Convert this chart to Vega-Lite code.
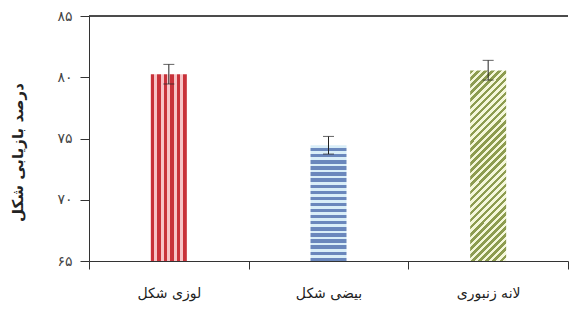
{
  "$schema": "https://vega.github.io/schema/vega-lite/v6.json",
  "autosize": "none",
  "width": 479,
  "height": 245,
  "padding": {"left": 89, "top": 16, "right": 1, "bottom": 55},
  "background": "white",
  "config": {"view": {"stroke": null}, "font": "DejaVu Sans"},
  "data": {
    "values": [
      {"shape": "لوزی شکل", "value": 80.25, "lo": 79.45, "hi": 81.05},
      {"shape": "بیضی شکل", "value": 74.45, "lo": 73.73, "hi": 75.17},
      {"shape": "لانه زنبوری", "value": 80.55, "lo": 79.77, "hi": 81.38}
    ]
  },
  "encoding": {
    "x": {
      "field": "shape", "type": "nominal", "sort": null,
      "scale": {"paddingInner": 0, "paddingOuter": 0},
      "axis": {
        "title": null, "labelAngle": 0, "tickBand": "extent",
        "domainColor": "#333", "tickColor": "#333", "tickSize": 8,
        "labelFontSize": 14, "labelColor": "#222", "labelPadding": 17,
        "labelFont": "DejaVu Sans"
      }
    }
  },
  "layer": [
    {
      "mark": {"type": "rule", "color": "#333", "strokeWidth": 1},
      "encoding": {
        "x": null,
        "y": {
          "datum": 85, "type": "quantitative",
          "scale": {"domain": [65, 85], "zero": false, "nice": false},
          "axis": {
            "title": "درصد بازیابی شکل",
            "values": [65, 70, 75, 80, 85],
            "grid": false,
            "labelExpr": "datum.value==65?'۶۵':datum.value==70?'۷۰':datum.value==75?'۷۵':datum.value==80?'۸۰':'۸۵'",
            "domainColor": "#333", "tickColor": "#333", "tickSize": 9,
            "labelFontSize": 14, "labelColor": "#444", "labelPadding": 8,
            "labelFont": "DejaVu Sans",
            "titleFont": "DejaVu Sans", "titleFontSize": 15, "titleFontWeight": "bold",
            "titleColor": "#222",
            "titleX": -72, "titleY": 136, "titleAngle": -90,
            "titleAlign": "center", "titleBaseline": "middle"
          }
        }
      }
    },
    {
      "transform": [{"filter": "datum.shape == 'لوزی شکل'"}],
      "mark": {
        "type": "bar", "size": 36,
        "fill": {
          "gradient": "linear", "x1": 0, "y1": 0, "x2": 1, "y2": 0,
          "stops": [
            {"offset": 0, "color": "#c8323a"}, {"offset": 0.095, "color": "#c8323a"},
            {"offset": 0.095, "color": "#f7c3c6"}, {"offset": 0.181, "color": "#f7c3c6"},
            {"offset": 0.181, "color": "#c8323a"}, {"offset": 0.276, "color": "#c8323a"},
            {"offset": 0.276, "color": "#f7c3c6"}, {"offset": 0.362, "color": "#f7c3c6"},
            {"offset": 0.362, "color": "#c8323a"}, {"offset": 0.457, "color": "#c8323a"},
            {"offset": 0.457, "color": "#f7c3c6"}, {"offset": 0.543, "color": "#f7c3c6"},
            {"offset": 0.543, "color": "#c8323a"}, {"offset": 0.638, "color": "#c8323a"},
            {"offset": 0.638, "color": "#f7c3c6"}, {"offset": 0.724, "color": "#f7c3c6"},
            {"offset": 0.724, "color": "#c8323a"}, {"offset": 0.819, "color": "#c8323a"},
            {"offset": 0.819, "color": "#f7c3c6"}, {"offset": 0.905, "color": "#f7c3c6"},
            {"offset": 0.905, "color": "#c8323a"}, {"offset": 1, "color": "#c8323a"}
          ]
        }
      },
      "encoding": {
        "y": {"field": "value", "type": "quantitative"},
        "y2": {"datum": 65}
      }
    },
    {
      "transform": [{"filter": "datum.shape == 'بیضی شکل'"}],
      "mark": {
        "type": "bar", "size": 36,
        "fill": {
          "gradient": "linear", "x1": 0, "y1": 0, "x2": 0, "y2": 1,
          "stops": [
            {"offset": 0, "color": "#d9eef8"}, {"offset": 0.024, "color": "#d9eef8"}, {"offset": 0.024, "color": "#6a87bc"}, {"offset": 0.0526, "color": "#6a87bc"},
            {"offset": 0.0526, "color": "#d9eef8"}, {"offset": 0.0766, "color": "#d9eef8"}, {"offset": 0.0766, "color": "#6a87bc"}, {"offset": 0.1053, "color": "#6a87bc"},
            {"offset": 0.1053, "color": "#d9eef8"}, {"offset": 0.1293, "color": "#d9eef8"}, {"offset": 0.1293, "color": "#6a87bc"}, {"offset": 0.1579, "color": "#6a87bc"},
            {"offset": 0.1579, "color": "#d9eef8"}, {"offset": 0.1819, "color": "#d9eef8"}, {"offset": 0.1819, "color": "#6a87bc"}, {"offset": 0.2105, "color": "#6a87bc"},
            {"offset": 0.2105, "color": "#d9eef8"}, {"offset": 0.2345, "color": "#d9eef8"}, {"offset": 0.2345, "color": "#6a87bc"}, {"offset": 0.2632, "color": "#6a87bc"},
            {"offset": 0.2632, "color": "#d9eef8"}, {"offset": 0.2872, "color": "#d9eef8"}, {"offset": 0.2872, "color": "#6a87bc"}, {"offset": 0.3158, "color": "#6a87bc"},
            {"offset": 0.3158, "color": "#d9eef8"}, {"offset": 0.3398, "color": "#d9eef8"}, {"offset": 0.3398, "color": "#6a87bc"}, {"offset": 0.3684, "color": "#6a87bc"},
            {"offset": 0.3684, "color": "#d9eef8"}, {"offset": 0.3924, "color": "#d9eef8"}, {"offset": 0.3924, "color": "#6a87bc"}, {"offset": 0.4211, "color": "#6a87bc"},
            {"offset": 0.4211, "color": "#d9eef8"}, {"offset": 0.4451, "color": "#d9eef8"}, {"offset": 0.4451, "color": "#6a87bc"}, {"offset": 0.4737, "color": "#6a87bc"},
            {"offset": 0.4737, "color": "#d9eef8"}, {"offset": 0.4977, "color": "#d9eef8"}, {"offset": 0.4977, "color": "#6a87bc"}, {"offset": 0.5263, "color": "#6a87bc"},
            {"offset": 0.5263, "color": "#d9eef8"}, {"offset": 0.5503, "color": "#d9eef8"}, {"offset": 0.5503, "color": "#6a87bc"}, {"offset": 0.5789, "color": "#6a87bc"},
            {"offset": 0.5789, "color": "#d9eef8"}, {"offset": 0.6029, "color": "#d9eef8"}, {"offset": 0.6029, "color": "#6a87bc"}, {"offset": 0.6316, "color": "#6a87bc"},
            {"offset": 0.6316, "color": "#d9eef8"}, {"offset": 0.6556, "color": "#d9eef8"}, {"offset": 0.6556, "color": "#6a87bc"}, {"offset": 0.6842, "color": "#6a87bc"},
            {"offset": 0.6842, "color": "#d9eef8"}, {"offset": 0.7082, "color": "#d9eef8"}, {"offset": 0.7082, "color": "#6a87bc"}, {"offset": 0.7368, "color": "#6a87bc"},
            {"offset": 0.7368, "color": "#d9eef8"}, {"offset": 0.7608, "color": "#d9eef8"}, {"offset": 0.7608, "color": "#6a87bc"}, {"offset": 0.7895, "color": "#6a87bc"},
            {"offset": 0.7895, "color": "#d9eef8"}, {"offset": 0.8135, "color": "#d9eef8"}, {"offset": 0.8135, "color": "#6a87bc"}, {"offset": 0.8421, "color": "#6a87bc"},
            {"offset": 0.8421, "color": "#d9eef8"}, {"offset": 0.8661, "color": "#d9eef8"}, {"offset": 0.8661, "color": "#6a87bc"}, {"offset": 0.8947, "color": "#6a87bc"},
            {"offset": 0.8947, "color": "#d9eef8"}, {"offset": 0.9187, "color": "#d9eef8"}, {"offset": 0.9187, "color": "#6a87bc"}, {"offset": 0.9474, "color": "#6a87bc"},
            {"offset": 0.9474, "color": "#d9eef8"}, {"offset": 0.9714, "color": "#d9eef8"}, {"offset": 0.9714, "color": "#6a87bc"}, {"offset": 1, "color": "#6a87bc"}
          ]
        }
      },
      "encoding": {
        "y": {"field": "value", "type": "quantitative"},
        "y2": {"datum": 65}
      }
    },
    {
      "transform": [{"filter": "datum.shape == 'لانه زنبوری'"}],
      "mark": {
        "type": "bar", "size": 36,
        "fill": {
          "gradient": "linear", "x1": 0, "y1": 0, "x2": 0.2176, "y2": 1.148,
          "stops": [
            {"offset": 0, "color": "#8d9c50"}, {"offset": 0.015625, "color": "#8d9c50"}, {"offset": 0.015625, "color": "#f4f7da"}, {"offset": 0.03125, "color": "#f4f7da"},
            {"offset": 0.03125, "color": "#8d9c50"}, {"offset": 0.046875, "color": "#8d9c50"}, {"offset": 0.046875, "color": "#f4f7da"}, {"offset": 0.0625, "color": "#f4f7da"},
            {"offset": 0.0625, "color": "#8d9c50"}, {"offset": 0.078125, "color": "#8d9c50"}, {"offset": 0.078125, "color": "#f4f7da"}, {"offset": 0.09375, "color": "#f4f7da"},
            {"offset": 0.09375, "color": "#8d9c50"}, {"offset": 0.109375, "color": "#8d9c50"}, {"offset": 0.109375, "color": "#f4f7da"}, {"offset": 0.125, "color": "#f4f7da"},
            {"offset": 0.125, "color": "#8d9c50"}, {"offset": 0.140625, "color": "#8d9c50"}, {"offset": 0.140625, "color": "#f4f7da"}, {"offset": 0.15625, "color": "#f4f7da"},
            {"offset": 0.15625, "color": "#8d9c50"}, {"offset": 0.171875, "color": "#8d9c50"}, {"offset": 0.171875, "color": "#f4f7da"}, {"offset": 0.1875, "color": "#f4f7da"},
            {"offset": 0.1875, "color": "#8d9c50"}, {"offset": 0.203125, "color": "#8d9c50"}, {"offset": 0.203125, "color": "#f4f7da"}, {"offset": 0.21875, "color": "#f4f7da"},
            {"offset": 0.21875, "color": "#8d9c50"}, {"offset": 0.234375, "color": "#8d9c50"}, {"offset": 0.234375, "color": "#f4f7da"}, {"offset": 0.25, "color": "#f4f7da"},
            {"offset": 0.25, "color": "#8d9c50"}, {"offset": 0.265625, "color": "#8d9c50"}, {"offset": 0.265625, "color": "#f4f7da"}, {"offset": 0.28125, "color": "#f4f7da"},
            {"offset": 0.28125, "color": "#8d9c50"}, {"offset": 0.296875, "color": "#8d9c50"}, {"offset": 0.296875, "color": "#f4f7da"}, {"offset": 0.3125, "color": "#f4f7da"},
            {"offset": 0.3125, "color": "#8d9c50"}, {"offset": 0.328125, "color": "#8d9c50"}, {"offset": 0.328125, "color": "#f4f7da"}, {"offset": 0.34375, "color": "#f4f7da"},
            {"offset": 0.34375, "color": "#8d9c50"}, {"offset": 0.359375, "color": "#8d9c50"}, {"offset": 0.359375, "color": "#f4f7da"}, {"offset": 0.375, "color": "#f4f7da"},
            {"offset": 0.375, "color": "#8d9c50"}, {"offset": 0.390625, "color": "#8d9c50"}, {"offset": 0.390625, "color": "#f4f7da"}, {"offset": 0.40625, "color": "#f4f7da"},
            {"offset": 0.40625, "color": "#8d9c50"}, {"offset": 0.421875, "color": "#8d9c50"}, {"offset": 0.421875, "color": "#f4f7da"}, {"offset": 0.4375, "color": "#f4f7da"},
            {"offset": 0.4375, "color": "#8d9c50"}, {"offset": 0.453125, "color": "#8d9c50"}, {"offset": 0.453125, "color": "#f4f7da"}, {"offset": 0.46875, "color": "#f4f7da"},
            {"offset": 0.46875, "color": "#8d9c50"}, {"offset": 0.484375, "color": "#8d9c50"}, {"offset": 0.484375, "color": "#f4f7da"}, {"offset": 0.5, "color": "#f4f7da"},
            {"offset": 0.5, "color": "#8d9c50"}, {"offset": 0.515625, "color": "#8d9c50"}, {"offset": 0.515625, "color": "#f4f7da"}, {"offset": 0.53125, "color": "#f4f7da"},
            {"offset": 0.53125, "color": "#8d9c50"}, {"offset": 0.546875, "color": "#8d9c50"}, {"offset": 0.546875, "color": "#f4f7da"}, {"offset": 0.5625, "color": "#f4f7da"},
            {"offset": 0.5625, "color": "#8d9c50"}, {"offset": 0.578125, "color": "#8d9c50"}, {"offset": 0.578125, "color": "#f4f7da"}, {"offset": 0.59375, "color": "#f4f7da"},
            {"offset": 0.59375, "color": "#8d9c50"}, {"offset": 0.609375, "color": "#8d9c50"}, {"offset": 0.609375, "color": "#f4f7da"}, {"offset": 0.625, "color": "#f4f7da"},
            {"offset": 0.625, "color": "#8d9c50"}, {"offset": 0.640625, "color": "#8d9c50"}, {"offset": 0.640625, "color": "#f4f7da"}, {"offset": 0.65625, "color": "#f4f7da"},
            {"offset": 0.65625, "color": "#8d9c50"}, {"offset": 0.671875, "color": "#8d9c50"}, {"offset": 0.671875, "color": "#f4f7da"}, {"offset": 0.6875, "color": "#f4f7da"},
            {"offset": 0.6875, "color": "#8d9c50"}, {"offset": 0.703125, "color": "#8d9c50"}, {"offset": 0.703125, "color": "#f4f7da"}, {"offset": 0.71875, "color": "#f4f7da"},
            {"offset": 0.71875, "color": "#8d9c50"}, {"offset": 0.734375, "color": "#8d9c50"}, {"offset": 0.734375, "color": "#f4f7da"}, {"offset": 0.75, "color": "#f4f7da"},
            {"offset": 0.75, "color": "#8d9c50"}, {"offset": 0.765625, "color": "#8d9c50"}, {"offset": 0.765625, "color": "#f4f7da"}, {"offset": 0.78125, "color": "#f4f7da"},
            {"offset": 0.78125, "color": "#8d9c50"}, {"offset": 0.796875, "color": "#8d9c50"}, {"offset": 0.796875, "color": "#f4f7da"}, {"offset": 0.8125, "color": "#f4f7da"},
            {"offset": 0.8125, "color": "#8d9c50"}, {"offset": 0.828125, "color": "#8d9c50"}, {"offset": 0.828125, "color": "#f4f7da"}, {"offset": 0.84375, "color": "#f4f7da"},
            {"offset": 0.84375, "color": "#8d9c50"}, {"offset": 0.859375, "color": "#8d9c50"}, {"offset": 0.859375, "color": "#f4f7da"}, {"offset": 0.875, "color": "#f4f7da"},
            {"offset": 0.875, "color": "#8d9c50"}, {"offset": 0.890625, "color": "#8d9c50"}, {"offset": 0.890625, "color": "#f4f7da"}, {"offset": 0.90625, "color": "#f4f7da"},
            {"offset": 0.90625, "color": "#8d9c50"}, {"offset": 0.921875, "color": "#8d9c50"}, {"offset": 0.921875, "color": "#f4f7da"}, {"offset": 0.9375, "color": "#f4f7da"},
            {"offset": 0.9375, "color": "#8d9c50"}, {"offset": 0.953125, "color": "#8d9c50"}, {"offset": 0.953125, "color": "#f4f7da"}, {"offset": 0.96875, "color": "#f4f7da"},
            {"offset": 0.96875, "color": "#8d9c50"}, {"offset": 0.984375, "color": "#8d9c50"}, {"offset": 0.984375, "color": "#f4f7da"}, {"offset": 1, "color": "#f4f7da"}
          ]
        }
      },
      "encoding": {
        "y": {"field": "value", "type": "quantitative"},
        "y2": {"datum": 65}
      }
    },
    {
      "mark": {"type": "rule", "color": "#222", "strokeWidth": 1},
      "encoding": {
        "y": {"field": "lo", "type": "quantitative"},
        "y2": {"field": "hi"}
      }
    },
    {
      "mark": {"type": "tick", "color": "#222", "size": 11, "thickness": 1},
      "encoding": {"y": {"field": "lo", "type": "quantitative"}}
    },
    {
      "mark": {"type": "tick", "color": "#222", "size": 11, "thickness": 1},
      "encoding": {"y": {"field": "hi", "type": "quantitative"}}
    }
  ],
  "resolve": {"scale": {"y": "shared"}}
}
